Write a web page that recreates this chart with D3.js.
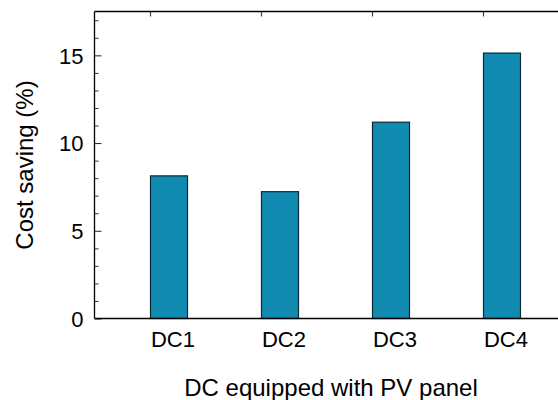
<!DOCTYPE html>
<html>
<head>
<meta charset="utf-8">
<script src="https://cdn.jsdelivr.net/npm/d3@7"></script>
<style>
  body { margin: 0; background: #fff; }
  text { font-family: "Liberation Sans", Arial, Helvetica, sans-serif; fill: #000; }
</style>
</head>
<body>
<div id="chart"></div>
<script>
// data
var categories = ["DC1", "DC2", "DC3", "DC4"];
var saving = [8.13, 7.23, 11.19, 15.13];
var yTicks = [0, 5, 10, 15];
var yMinor = [1, 2, 3, 4, 6, 7, 8, 9, 11, 12, 13, 14, 16, 17];

var W = 558, H = 400;
// plot box (the right edge runs past the picture)
var plotLeft = 94.5, plotTop = 11.5, plotBottom = 318.5, plotRight = 570;
var barW = 37;

var svg = d3.select("#chart")
  .append("svg")
  .attr("width", W)
  .attr("height", H);

// scales
var y = d3.scaleLinear()
  .domain([0, 17.5])
  .range([plotBottom, plotTop]);

// point positions = left edge of each bar
var x = d3.scalePoint()
  .domain(categories)
  .range([150.5, 483.5]);

// minor y ticks
svg.append("g")
  .attr("transform", "translate(" + plotLeft + ",0)")
  .call(d3.axisLeft(y).tickValues(yMinor).tickSizeInner(-4).tickSizeOuter(0).tickFormat(""))
  .call(function (g) { g.select(".domain").remove(); })
  .selectAll("line").attr("stroke", "#333");

// major y ticks + labels
var yAxis = svg.append("g")
  .attr("transform", "translate(" + plotLeft + ",0)")
  .call(d3.axisLeft(y).tickValues(yTicks).tickSizeInner(-7).tickSizeOuter(0).tickPadding(11));
yAxis.select(".domain").remove();
yAxis.selectAll("line").attr("stroke", "#222");
yAxis.selectAll("text")
  .style("font-size", "22px")
  .attr("dy", "0.35em");

// top ticks at category positions
svg.append("g")
  .selectAll("line")
  .data(categories)
  .enter()
  .append("line")
  .attr("x1", function (d) { return x(d); })
  .attr("x2", function (d) { return x(d); })
  .attr("y1", plotTop)
  .attr("y2", plotTop + 5)
  .attr("stroke", "#444")
  .attr("stroke-width", 1.2);

// bars
svg.append("g")
  .selectAll("rect")
  .data(saving)
  .enter()
  .append("rect")
  .attr("x", function (d, i) { return x(categories[i]); })
  .attr("y", function (d) { return y(d); })
  .attr("width", barW)
  .attr("height", function (d) { return y(0) - y(d); })
  .attr("fill", "#118ab2")
  .attr("stroke", "#0b2a33")
  .attr("stroke-width", 1.2);

// frame lines (left, top, bottom)
svg.append("line")
  .attr("x1", plotLeft).attr("x2", plotLeft)
  .attr("y1", plotTop).attr("y2", plotBottom)
  .attr("stroke", "#000").attr("stroke-width", 1.3);
svg.append("line")
  .attr("x1", plotLeft).attr("x2", plotRight)
  .attr("y1", plotTop).attr("y2", plotTop)
  .attr("stroke", "#000").attr("stroke-width", 1.3);
svg.append("line")
  .attr("x1", plotLeft).attr("x2", plotRight)
  .attr("y1", plotBottom).attr("y2", plotBottom)
  .attr("stroke", "#000").attr("stroke-width", 1.3);

// category labels
svg.append("g")
  .selectAll("text")
  .data(categories)
  .enter()
  .append("text")
  .attr("x", function (d) { return x(d) + barW / 2 + 4; })
  .attr("y", 347)
  .attr("text-anchor", "middle")
  .style("font-size", "22px")
  .text(function (d) { return d; });

// axis titles
svg.append("text")
  .attr("x", 331)
  .attr("y", 396)
  .attr("text-anchor", "middle")
  .style("font-size", "24px")
  .text("DC equipped with PV panel");

svg.append("text")
  .attr("transform", "translate(32.5," + ((plotTop + plotBottom) / 2) + ") rotate(-90)")
  .attr("text-anchor", "middle")
  .style("font-size", "24px")
  .text("Cost saving (%)");
</script>
</body>
</html>
